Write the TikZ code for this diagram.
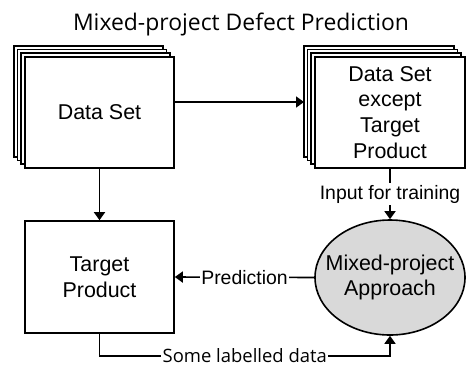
\documentclass[tikz,border=0pt]{standalone}
\usepackage{fontspec}
\setmainfont{Liberation Sans}
\newfontfamily\segoe{Open Sans}
\usetikzlibrary{arrows.meta,shapes.geometric,calc}
\begin{document}
\begin{tikzpicture}[x=1bp,y=-1bp,
  every path/.style={line width=1.6bp},
  layer/.style={draw=black,fill=white,line width=1.6bp},
  box/.style={draw=black,fill=white,line width=1.6bp,minimum width=149bp,minimum height=111bp,inner sep=0pt,align=center,font=\fontsize{21.5}{26}\selectfont},
  ell/.style={ellipse,draw=black,fill=graybg,line width=1.6bp,minimum width=150bp,minimum height=115bp,inner sep=0pt},
  elltext/.style={align=center,inner sep=0pt,font=\fontsize{21.5}{24.5}\selectfont},
  lbl/.style={fill=white,inner sep=1.5bp,font=\fontsize{19.5}{22}\selectfont},
  arr/.style={-{Triangle[length=8bp,width=11bp]},line width=1.6bp},
]
\definecolor{graybg}{HTML}{D9D9D9}
\useasboundingbox (0,0) rectangle (471,368);
% title
\node[anchor=base,font=\segoe\fontsize{23}{27}\selectfont] (title) at (241,30) {Mixed-project Defect Prediction};
% back layers
\foreach \o in {11,7.5,4} {
  \draw[layer] (25-\o,57-\o) rectangle (174-\o,168-\o);
  \draw[layer] (315-\o,57-\o) rectangle (465-\o,168-\o);
}
\node[box] (ds) at (99.5,112.5) {Data Set};
\node[box,minimum width=150bp] (dx) at (390,112.5) {Data Set\\except\\Target\\Product};
\node[box,minimum height=112bp] (tp) at (99.5,277) {Target\\Product};
\node[ell,label={[elltext]center:Mixed-project\\Approach}] (mx) at (390,277.5) {};
\coordinate (dxback) at (304,102);
% connectors
\draw[arr] (dxback -| ds.east) -- (dxback);
\draw[arr] (ds.south) -- (tp.north);
\draw[arr] (dx.south) -- node[lbl] {Input for training} (mx.north);
\draw[arr] (mx.west) -- node[lbl] {Prediction} (tp.east);
\draw[arr] (tp.south) -- ++(0,22) -| node[pos=0.25,lbl,font=\segoe\fontsize{18.5}{22}\selectfont] {Some labelled data} (mx.south);
\end{tikzpicture}
\end{document}
